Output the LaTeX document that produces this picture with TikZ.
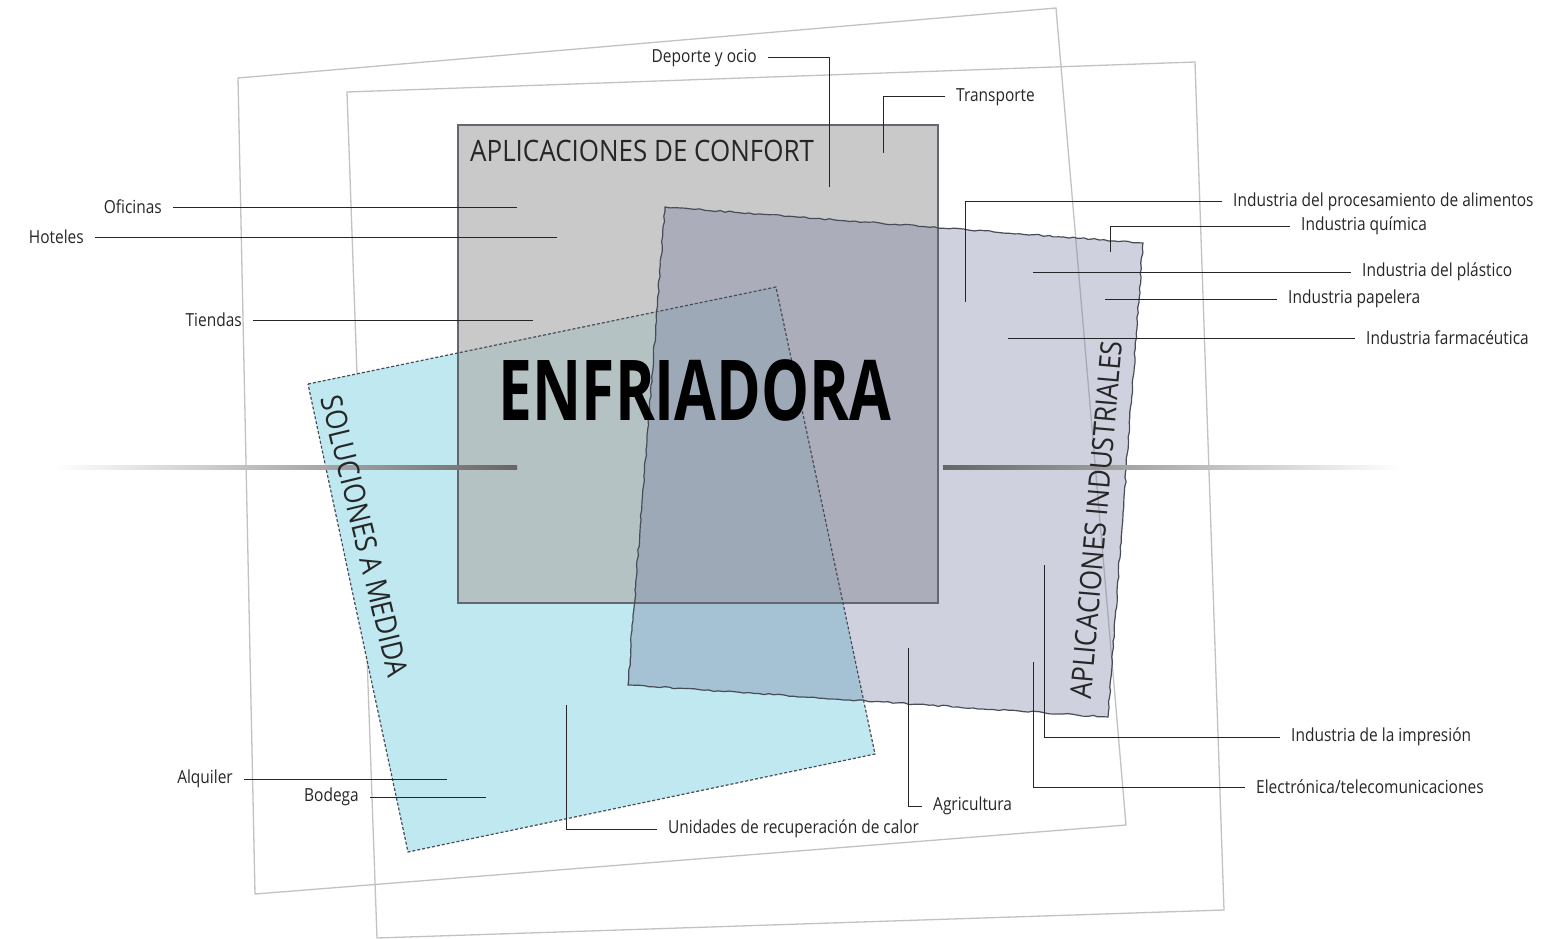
\documentclass[tikz,border=0pt]{standalone}
\usepackage{fontspec}
\setmainfont[FakeStretch=0.86]{Open Sans}
\newfontfamily\headfont[FakeStretch=0.88]{Open Sans}
\newfontfamily\bigfont[FakeStretch=0.72]{Open Sans}
\usepackage{tikz}
\usetikzlibrary{positioning,decorations.pathmorphing}
\definecolor{framegray}{rgb}{.76,.76,.76}
\definecolor{confort}{rgb}{.70,.70,.70}
\definecolor{industrial}{rgb}{.46,.49,.63}
\definecolor{medida}{rgb}{.75,.91,.94}
\definecolor{edge}{rgb}{.28,.30,.34}
\definecolor{leadgray}{rgb}{.15,.15,.15}

\begin{document}
\begin{tikzpicture}[x=1pt,y=-1pt,
    frame/.style={draw=framegray, line width=1.3pt},
    lbl/.style={font=\fontsize{18}{20}\selectfont, text=black!85, inner xsep=11pt, inner ysep=2pt},
    leader/.style={draw=leadgray, line width=1pt},
    head/.style={font=\headfont\fontsize{29.5}{32}\selectfont, text=black!85, inner sep=0pt},
    torn/.style={decorate, decoration={random steps, segment length=5pt, amplitude=0.8pt}}]
  \useasboundingbox (0,0) rectangle (1543,939);

  % Outer frames
  \draw[frame] (238,78) -- (1056,8) -- (1126,825) -- (255,894) -- cycle;
  \draw[frame] (347,92) -- (1195,62) -- (1224,910) -- (377,938) -- cycle;

  % Coloured panels
  \fill[medida] (308,384) -- (776,287) -- (875,754) -- (408,852) -- cycle;
  \fill[confort, fill opacity=0.7] (458,125) rectangle (938,603);
  \fill[industrial, fill opacity=0.35] (665,207) -- (1143,243) -- (1108,717) -- (628,685) -- cycle;
  \draw[edge!85, line width=1.5pt] (458,125) rectangle (938,603);
  \draw[edge, line width=1.2pt, torn] (665,207) -- (1143,243) -- (1108,717) -- (628,685) -- cycle;
  \draw[edge, line width=1.2pt, densely dashed] (308,384) -- (776,287) -- (875,754) -- (408,852) -- cycle;

  % Gradient bars
  \shade[left color=white, right color=black!60] (55,465) rectangle (517,469);
  \shade[left color=black!60, right color=white] (943,465) rectangle (1400,469);

  % Titles
  \node[head, anchor=west] (confortT) at (470,151) {APLICACIONES DE CONFORT};
  \node[head, rotate=-76.3] (medidaT) at (365,536) {SOLUCIONES A MEDIDA};
  \node[head, rotate=85] (induT) at (1096,520) {APLICACIONES INDUSTRIALES};
  \node[font=\bigfont\bfseries\fontsize{84}{90}\selectfont, inner sep=0pt] (chiller) at (695,390) {ENFRIADORA};

  % Labels, left side
  \node[lbl, anchor=east] (ofi) at (173,207) {Oficinas};
  \node[lbl, anchor=east] (hot) at (95,237) {Hoteles};
  \node[lbl, anchor=east] (tie) at (253,320) {Tiendas};
  \node[lbl, anchor=east] (alq) at (244,779) {Alquiler};
  \node[lbl, anchor=east] (bod) at (370,797) {Bodega};
  \node[lbl, anchor=east] (dep) at (768,58) {Deporte y ocio};

  % Labels, right side
  \node[lbl, anchor=west] (tra) at (945,97) {Transporte};
  \node[lbl, anchor=west] (ali) at (1222,202) {Industria del procesamiento de alimentos};
  \node[lbl, anchor=west] (qui) at (1290,226) {Industria química};
  \node[lbl, anchor=west] (pla) at (1351,272) {Industria del plástico};
  \node[lbl, anchor=west] (pap) at (1277,299) {Industria papelera};
  \node[lbl, anchor=west] (far) at (1355,338) {Industria farmacéutica};
  \node[lbl, anchor=west] (imp) at (1280,737) {Industria de la impresión};
  \node[lbl, anchor=west] (ele) at (1245,787) {Electrónica/telecomunicaciones};
  \node[lbl, anchor=west] (agr) at (922,806) {Agricultura};
  \node[lbl, anchor=west] (uni) at (657,829) {Unidades de recuperación de calor};

  % Leader ends
  \coordinate (ofiEnd) at (517,207);
  \coordinate (hotEnd) at (557,237);
  \coordinate (tieEnd) at (533,320);
  \coordinate (alqEnd) at (447,779);
  \coordinate (bodEnd) at (486,797);
  \coordinate (depEnd) at (829,187);
  \coordinate (traEnd) at (883,153);
  \coordinate (aliEnd) at (965,302);
  \coordinate (quiEnd) at (1110,252);
  \coordinate (plaEnd) at (1033,272);
  \coordinate (papEnd) at (1105,299);
  \coordinate (farEnd) at (1008,338);
  \coordinate (impEnd) at (1044,565);
  \coordinate (eleEnd) at (1033,662);
  \coordinate (agrEnd) at (908,648);
  \coordinate (uniEnd) at (566,705);

  % Leaders
  \draw[leader] (ofi.east) -- (ofiEnd);
  \draw[leader] (hot.east) -- (hotEnd);
  \draw[leader] (tie.east) -- (tieEnd);
  \draw[leader] (alq.east) -- (alqEnd);
  \draw[leader] (bod.east) -- (bodEnd);
  \draw[leader] (dep.east) -| (depEnd);
  \draw[leader] (tra.west) -| (traEnd);
  \draw[leader] (ali.west) -| (aliEnd);
  \draw[leader] (qui.west) -| (quiEnd);
  \draw[leader] (pla.west) -- (plaEnd);
  \draw[leader] (pap.west) -- (papEnd);
  \draw[leader] (far.west) -- (farEnd);
  \draw[leader] (imp.west) -| (impEnd);
  \draw[leader] (ele.west) -| (eleEnd);
  \draw[leader] (agr.west) -| (agrEnd);
  \draw[leader] (uni.west) -| (uniEnd);
\end{tikzpicture}
\end{document}
